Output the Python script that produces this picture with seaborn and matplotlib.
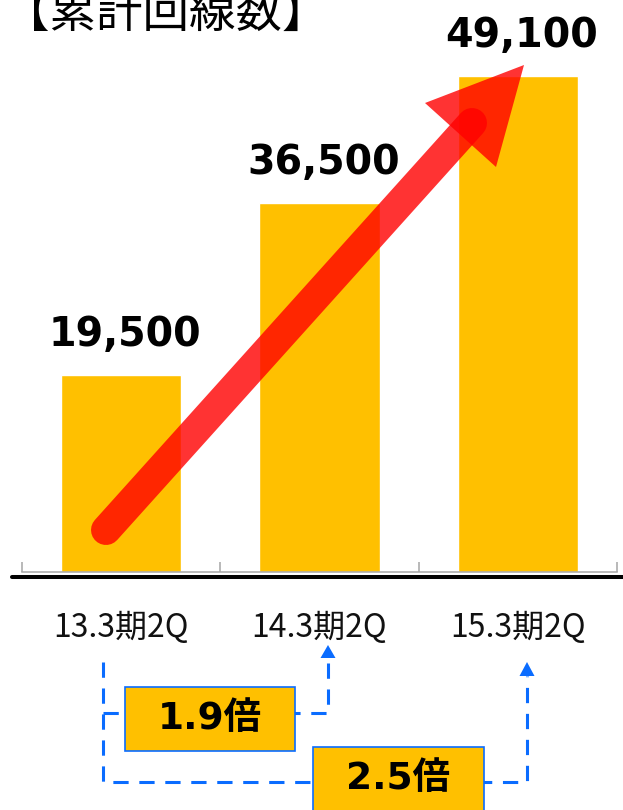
import matplotlib
matplotlib.use("Agg")
import matplotlib.pyplot as plt
import seaborn as sns
import pandas as pd
from matplotlib.patches import Rectangle, Polygon
from matplotlib.lines import Line2D

# ---- data ----
categories = ["13.3期2Q", "14.3期2Q", "15.3期2Q"]
values = [19500, 36500, 49100]
value_labels = ["19,500", "36,500", "49,100"]
title = "【累計回線数】"
ratio_labels = ["1.9倍", "2.5倍"]

sns.set_theme(style="white")
plt.rcParams['font.family'] = ['Noto Sans CJK JP', 'DejaVu Sans']

W, H = 623, 810
fig = plt.figure(figsize=(W / 100, H / 100), dpi=100)


def fx(px):
    return px / W


def fy(py):
    return 1 - py / H


ax = fig.add_axes([fx(22), fy(572), fx(617) - fx(22), fy(0) - fy(572)])
df = pd.DataFrame({"cat": categories, "val": values})
sns.barplot(data=df, x="cat", y="val", order=categories, color="#FFC000",
            width=0.606, saturation=1, ax=ax)
ax.set_xlim(-0.5, 2.5)
ax.set_ylim(0, 56600)
ax.set_xlabel("")
ax.set_ylabel("")
ax.set_yticks([])
for s in ["top", "left", "right"]:
    ax.spines[s].set_visible(False)
ax.spines["bottom"].set_color("#A6A6A6")
ax.spines["bottom"].set_linewidth(1.1)
ax.set_xticks(range(len(categories)))
ax.set_xticklabels(categories, fontsize=23, color="#111111")
ax.tick_params(axis="x", which="major", length=0, pad=29)
ax.set_xticks([-0.5, 0.5, 1.5, 2.5], minor=True)
ax.tick_params(axis="x", which="minor", direction="in", length=7.5,
               width=1.1, color="#A6A6A6", bottom=True)
ax.patch.set_alpha(0)

for i, (v, lab) in enumerate(zip(values, value_labels)):
    ax.annotate(lab, xy=(i, v), xytext=(3, 21), textcoords="offset points",
                ha="center", va="baseline", fontsize=28.5, fontweight="bold",
                family=["DejaVu Sans"], color="black")

# thick black base line
fig.add_artist(Line2D([fx(12), 1], [fy(577), fy(577)], transform=fig.transFigure,
                      color="black", lw=2.9))

# overlay in pixel coordinates for annotations
ov = fig.add_axes([0, 0, 1, 1])
ov.set_xlim(0, W)
ov.set_ylim(H, 0)
ov.axis("off")

# growth arrow
ov.plot([106, 472], [530, 123], color="red", alpha=0.8, lw=21.6,
        solid_capstyle="round")
ov.add_patch(Polygon([(425, 103), (524, 65), (496, 167)], closed=True,
                     facecolor="red", edgecolor="none", alpha=0.8))

# title
fig.text(fx(3), fy(27), title, fontsize=33.5, ha="left", va="baseline", color="black")

# dashed blue connectors
blue = "#0A6CFF"
ov.plot([103, 103, 527, 527], [662, 782, 782, 676], color=blue, lw=2.2,
        ls=(0, (5, 3.5)), zorder=2)
ov.plot([103, 328, 328], [713, 713, 658], color=blue, lw=2.2,
        ls=(0, (5, 3.5)), zorder=2)
ov.add_patch(Polygon([(328, 645), (320.5, 658), (335.5, 658)], closed=True,
                     facecolor=blue, edgecolor="none", zorder=2))
ov.add_patch(Polygon([(527, 662), (519.5, 676), (534.5, 676)], closed=True,
                     facecolor=blue, edgecolor="none", zorder=2))

boxes = [(125, 687, 170, 64), (313, 747, 171, 64)]
for (bx, by, bw, bh), lab in zip(boxes, ratio_labels):
    ov.add_patch(Rectangle((bx, by), bw, bh, facecolor="#FFC000",
                           edgecolor=blue, lw=1.2, zorder=3))
    ov.text(bx + bw / 2, by + bh / 2, lab, ha="center", va="center",
            fontsize=27, fontweight="bold", family=["DejaVu Sans", "Noto Sans CJK JP"],
            color="black", zorder=4)

fig.savefig("out.png", dpi=100)
